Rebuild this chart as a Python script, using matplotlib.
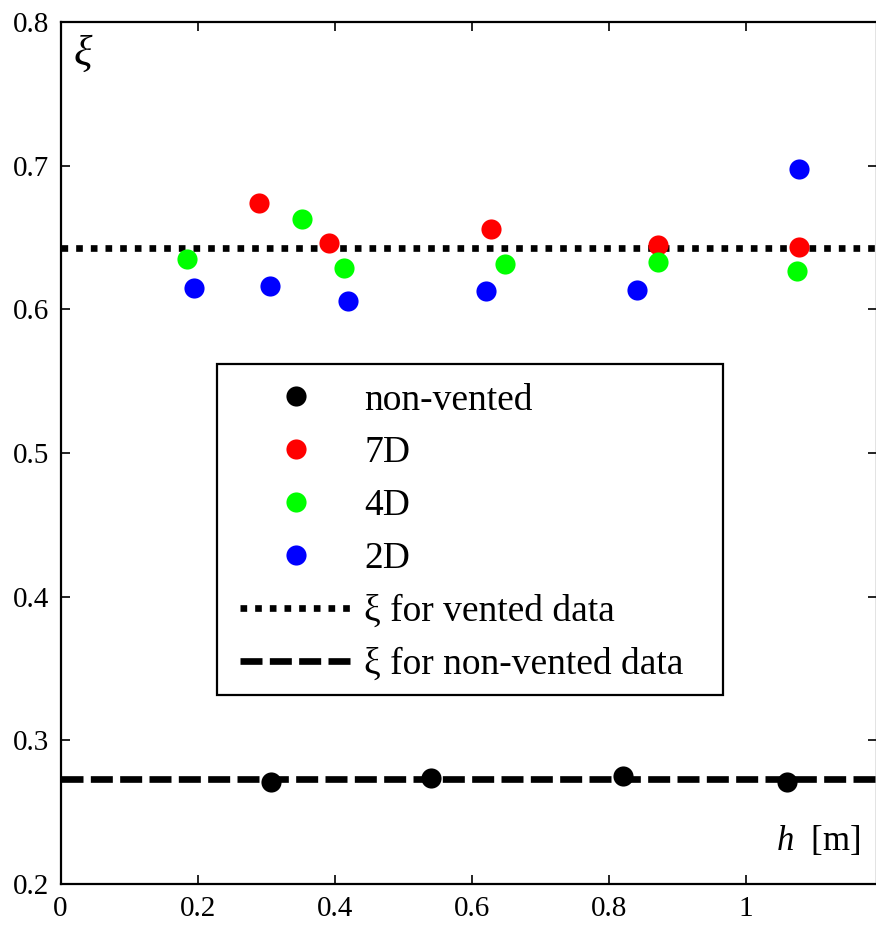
import matplotlib
matplotlib.use("Agg")
import matplotlib.pyplot as plt
from matplotlib.lines import Line2D
from matplotlib.patches import Rectangle

plt.rcParams['font.family'] = ['Liberation Serif', 'DejaVu Serif']
plt.rcParams['mathtext.fontset'] = 'custom'
plt.rcParams['mathtext.it'] = 'Liberation Serif:italic'
plt.rcParams['mathtext.rm'] = 'Liberation Serif'

# ---- data ----
h_nonvented = [0.307, 0.540, 0.821, 1.060]
xi_nonvented = [0.2712, 0.2740, 0.2752, 0.2712]

h_7D = [0.290, 0.392, 0.628, 0.872, 1.078]
xi_7D = [0.6742, 0.6464, 0.6560, 0.6448, 0.6436]

h_4D = [0.185, 0.352, 0.413, 0.648, 0.871, 1.075]
xi_4D = [0.6348, 0.6629, 0.6290, 0.6315, 0.6327, 0.6264]

h_2D = [0.195, 0.305, 0.420, 0.620, 0.841, 1.078]
xi_2D = [0.6150, 0.6160, 0.6060, 0.6130, 0.6134, 0.6976]

xi_vented = 0.6429
xi_nonvented_fit = 0.2729

xticks = [0, 0.2, 0.4, 0.6, 0.8, 1]
xticklabels = ['0', '0.2', '0.4', '0.6', '0.8', '1']
yticks = [0.2, 0.3, 0.4, 0.5, 0.6, 0.7, 0.8]
yticklabels = ['0.2', '0.3', '0.4', '0.5', '0.6', '0.7', '0.8']

W, H = 876, 926
fig = plt.figure(figsize=(W / 100, H / 100), dpi=100)
left = 60.5 / W
bottom = (H - 884) / H
top = (H - 22) / H
right = 877 / W
ax = fig.add_axes([left, bottom, right - left, top - bottom])

ax.set_xlim(0, (877 - 60.5) / 685.5)
ax.set_ylim(0.2, 0.8)

lw_line = 4.8
ax.axhline(xi_vented, color='black', lw=lw_line, dashes=(1.0, 1.2),
           dash_capstyle='butt', zorder=1)
ax.axhline(xi_nonvented_fit, color='black', lw=lw_line, dashes=(3.3, 1.1),
           dash_capstyle='butt', zorder=1)

ms = 14.5
ax.plot(h_nonvented, xi_nonvented, 'o', color='black', ms=ms, mec='none', zorder=3)
ax.plot(h_7D, xi_7D, 'o', color=(1, 0, 0), ms=ms, mec='none', zorder=3)
ax.plot(h_4D, xi_4D, 'o', color=(0, 1, 0), ms=ms, mec='none', zorder=3)
ax.plot(h_2D, xi_2D, 'o', color=(0, 0, 1), ms=ms, mec='none', zorder=3)

ax.set_xticks(xticks)
ax.set_xticklabels(xticklabels)
ax.set_yticks(yticks)
ax.set_yticklabels(yticklabels)
ax.tick_params(direction='in', length=6.3, width=1.2, labelsize=21,
               top=True, right=True)
ax.tick_params(axis='x', pad=9)
ax.tick_params(axis='y', pad=8)
for s in ax.spines.values():
    s.set_linewidth(1.6)

ax.text(0.016, 0.984, 'ξ', transform=ax.transAxes, fontsize=31,
        style='italic', ha='left', va='top')
ax.text(0.980, 0.039, r'$\mathit{h}$  [m]', transform=ax.transAxes,
        fontsize=25, ha='right', va='baseline')

# legend box (MATLAB-style frame with wide right margin)
ax.add_patch(Rectangle(((217 - 60.5) / 815.5, (884 - 695) / 862),
                       (722 - 217) / 815.5, (695 - 364) / 862,
                       transform=ax.transAxes, fill=True, facecolor='white',
                       edgecolor='black', lw=1.6, zorder=4))

handles = [
    Line2D([], [], ls='none', marker='o', color='black', ms=ms, mec='none'),
    Line2D([], [], ls='none', marker='o', color=(1, 0, 0), ms=ms, mec='none'),
    Line2D([], [], ls='none', marker='o', color=(0, 1, 0), ms=ms, mec='none'),
    Line2D([], [], ls='none', marker='o', color=(0, 0, 1), ms=ms, mec='none'),
    Line2D([], [], color='black', lw=lw_line, dashes=(1.0, 1.2), dash_capstyle='butt'),
    Line2D([], [], color='black', lw=lw_line, dashes=(3.3, 1.1), dash_capstyle='butt'),
]
labels = ['non-vented', '7D', '4D', '2D', 'ξ for vented data', 'ξ for non-vented data']
fs_leg = 27
leg = ax.legend(handles, labels, loc='upper left',
                bbox_to_anchor=((240 - 60.5) / 815.5, (884 - 383) / 862),
                borderaxespad=0, borderpad=0,
                fontsize=fs_leg, frameon=False,
                handlelength=112 / 37.5, handletextpad=12 / 37.5,
                labelspacing=0.49, numpoints=1)
leg.set_zorder(5)

fig.savefig('out.png', dpi=100)
